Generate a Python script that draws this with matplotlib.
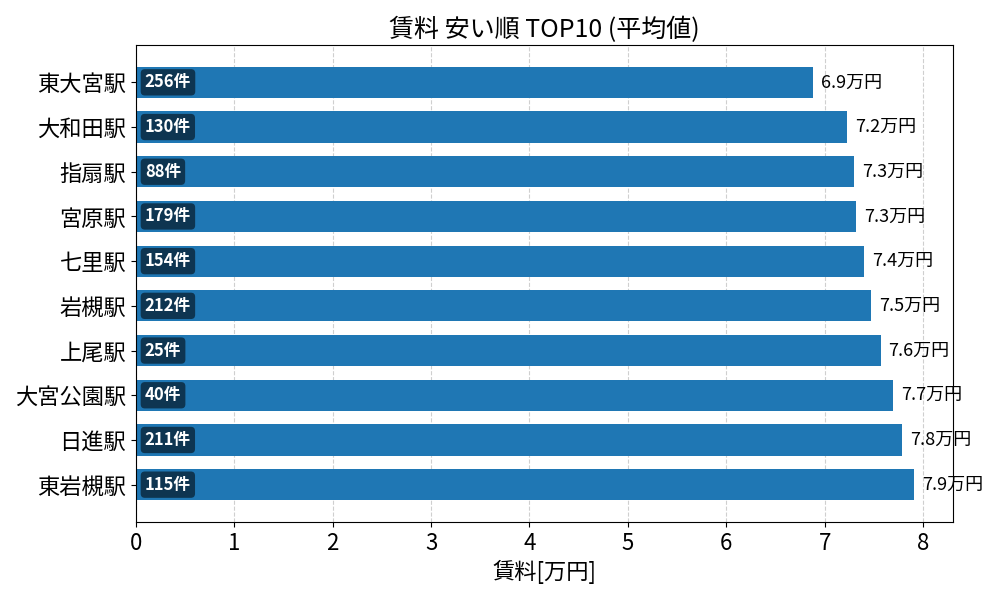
import matplotlib
matplotlib.use("Agg")
import matplotlib.pyplot as plt

plt.rcParams['font.family'] = ['Noto Sans CJK JP', 'DejaVu Sans']

# data, top to bottom
stations = ["東大宮駅", "大和田駅", "指扇駅", "宮原駅", "七里駅",
            "岩槻駅", "上尾駅", "大宮公園駅", "日進駅", "東岩槻駅"]
rents = [6.88, 7.23, 7.30, 7.32, 7.40, 7.47, 7.57, 7.70, 7.79, 7.91]
counts = [256, 130, 88, 179, 154, 212, 25, 40, 211, 115]

fig, ax = plt.subplots(figsize=(10, 6), dpi=100)

ypos = list(range(len(stations)))
ax.barh(ypos, rents, height=0.7, color="#1f77b4", zorder=2)
ax.set_yticks(ypos)
ax.set_yticklabels(stations, fontsize=16)
ax.invert_yaxis()

for y, v, c in zip(ypos, rents, counts):
    ax.text(v + 0.08, y, f"{v:.1f}万円", va="center", ha="left", fontsize=13, zorder=3)
    ax.text(0.09, y, f"{c}件", va="center", ha="left", fontsize=12,
            color="white", fontweight="bold", zorder=3,
            bbox=dict(boxstyle="round,pad=0.25", facecolor="black",
                      alpha=0.55, edgecolor="none"))

ax.set_xlim(0, max(rents) * 1.05)
ax.tick_params(axis="x", labelsize=16)
ax.grid(axis="x", linestyle="--", alpha=0.6, zorder=0)
ax.set_xlabel("賃料[万円]", fontsize=16)
ax.set_title("賃料 安い順 TOP10 (平均値)", fontsize=18)

plt.subplots_adjust(left=0.136, right=0.953, top=0.925, bottom=0.13)
fig.savefig("out.png")
